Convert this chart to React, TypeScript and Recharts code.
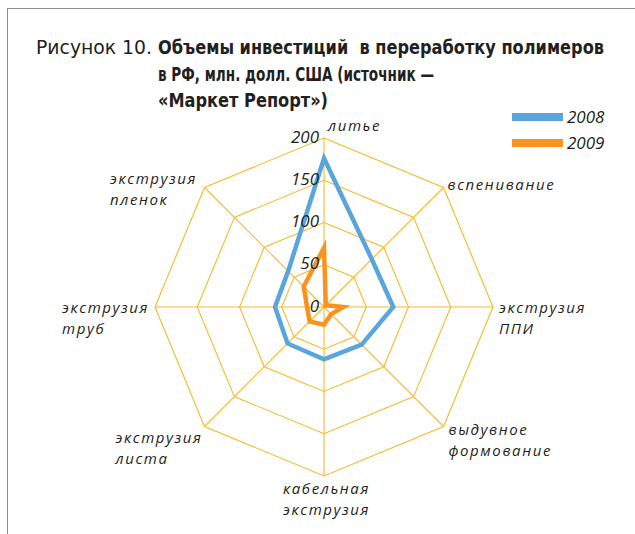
import React from "react";
import { RadarChart, Radar, PolarGrid, PolarAngleAxis, PolarRadiusAxis, Legend } from "recharts";

const categories = [
  "литье",
  "вспенивание",
  "экструзия ППИ",
  "выдувное формование",
  "кабельная экструзия",
  "экструзия листа",
  "экструзия труб",
  "экструзия пленок",
];
const values2008 = [176, 80, 82, 63, 62, 61, 58, 60];
const values2009 = [70, 3, 23, 12, 21, 24, 20, 34];
const radiusTicks = [0, 50, 100, 150, 200];
const seriesNames = ["2008", "2009"];

const data = categories.map((c, i) => ({ category: c, y2008: values2008[i], y2009: values2009[i] }));

const W = 635;
const H = 534;
const CX = 324;
const CY = 307;
const R = 169;
const BLUE = "#5AA6DC";
const ORANGE = "#F7931E";
const GRID = "#FBB829";
const TEXT = "#231F20";

// label offsets relative to the axis end point (first line centre)
const LABEL_LAYOUT = [
  { dx: 4, dy: -13 },
  { dx: 4, dy: -3.5 },
  { dx: 6, dy: 0 },
  { dx: 5, dy: 2 },
  { dx: -41, dy: 12 },
  { dx: -89, dy: 10 },
  { dx: -93, dy: 0 },
  { dx: -94.5, dy: -9.5 },
];

const AngleTick = (props: any) => {
  const { payload, index } = props;
  const ang = (payload.coordinate * Math.PI) / 180;
  const vx = CX + R * Math.cos(-ang);
  const vy = CY + R * Math.sin(-ang);
  const lay = LABEL_LAYOUT[index] || { dx: 0, dy: 0 };
  const lines = String(payload.value).split(" ");
  return (
    <text
      x={vx + lay.dx}
      y={vy + lay.dy}
      fill={TEXT}
      fontFamily="'Open Sans', sans-serif"
      fontStyle="italic"
      fontSize={15}
      letterSpacing={1.6}
      textAnchor="start"
      dominantBaseline="central"
    >
      {lines.map((l, i) => (
        <tspan key={i} x={vx + lay.dx} dy={i === 0 ? 0 : 21}>
          {l}
        </tspan>
      ))}
    </text>
  );
};

const RadiusTick = (props: any) => {
  const { x, y, payload } = props;
  return (
    <text
      x={x - 5}
      y={y - 2}
      fill={TEXT}
      fontFamily="'Open Sans', sans-serif"
      fontStyle="italic"
      fontSize={17}
      textAnchor="end"
      dominantBaseline="central"
    >
      {payload.value}
    </text>
  );
};

const LegendContent = (props: any) => {
  const { payload } = props;
  return (
    <div>
      {(payload || []).map((p: any, i: number) => (
        <div key={i} style={{ display: "flex", alignItems: "center", height: 26 }}>
          <div style={{ width: 51, height: 8, background: p.color, marginRight: 4 }} />
          <span
            style={{
              fontFamily: "'Open Sans', sans-serif",
              fontStyle: "italic",
              fontSize: 17,
              color: TEXT,
              lineHeight: "26px",
            }}
          >
            {p.value}
          </span>
        </div>
      ))}
    </div>
  );
};

export default function App() {
  return (
    <div style={{ position: "absolute", left: 0, top: 0, width: W, height: H, background: "#fff", overflow: "hidden" }}>
      <div
        style={{
          position: "absolute",
          left: 7,
          top: 8,
          width: W,
          height: H,
          borderTop: "1.5px solid #8c8c8c",
          borderLeft: "1.5px solid #8c8c8c",
        }}
      />
      <svg width={W} height={130} style={{ position: "absolute", left: 0, top: 0 }}>
        <g fontFamily="'DejaVu Sans Condensed', 'Open Sans', sans-serif" fontSize={20} fill={TEXT}>
          <text x={36} y={54} textLength={116} lengthAdjust="spacingAndGlyphs">
            Рисунок 10.
          </text>
          <text x={158} y={54} fontWeight="bold" textLength={446} lengthAdjust="spacingAndGlyphs">
            {"Объемы инвестиций\u00A0 в переработку полимеров"}
          </text>
          <text x={158} y={81} fontWeight="bold" textLength={276} lengthAdjust="spacingAndGlyphs">
            в РФ, млн. долл. США (источник —
          </text>
          <text x={158} y={107} fontWeight="bold" textLength={170} lengthAdjust="spacingAndGlyphs">
            «Маркет Репорт»)
          </text>
        </g>
      </svg>
      <div style={{ position: "absolute", left: 0, top: 0 }}>
        <RadarChart width={W} height={H} data={data} cx={CX} cy={CY} outerRadius={R} startAngle={90} endAngle={-270}>
          <PolarGrid gridType="polygon" stroke={GRID} strokeOpacity={1} strokeWidth={1.1} />
          <PolarAngleAxis dataKey="category" tick={<AngleTick />} tickLine={false} axisLine={false} />
          <PolarRadiusAxis
            angle={90}
            domain={[0, 200]}
            ticks={radiusTicks as any}
            tickCount={5}
            axisLine={false}
            tickLine={false}
            tick={<RadiusTick />}
          />
          <Radar
            name={seriesNames[0]}
            dataKey="y2008"
            stroke={BLUE}
            strokeWidth={4.5}
            fill="none"
            fillOpacity={0}
            dot={false}
            isAnimationActive={false}
          />
          <Radar
            name={seriesNames[1]}
            dataKey="y2009"
            stroke={ORANGE}
            strokeWidth={4.5}
            fill="none"
            fillOpacity={0}
            dot={false}
            isAnimationActive={false}
          />
          <Legend
            layout="vertical"
            content={<LegendContent />}
            wrapperStyle={{ position: "absolute", left: 512, top: 104, width: 110 }}
          />
        </RadarChart>
      </div>
    </div>
  );
}
